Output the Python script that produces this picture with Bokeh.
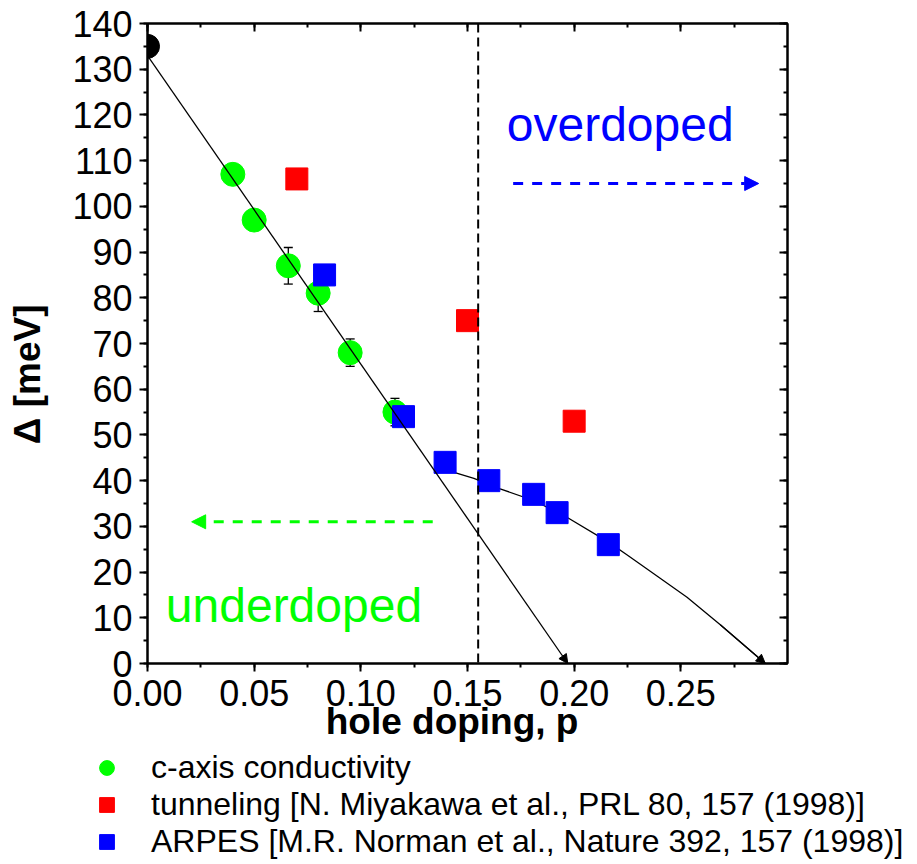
from bokeh.plotting import figure
from bokeh.models import (ColumnDataSource, Whisker, TeeHead, Arrow, NormalHead, Span,
                          Legend, LegendItem, LinearAxis, Range1d, SingleIntervalTicker,
                          NumeralTickFormatter)
from bokeh.core.properties import value
from bokeh.embed import file_html
from bokeh.resources import INLINE

FONT = "Liberation Sans"

# ---- data ----
cond_p = [0.040, 0.050, 0.066, 0.080, 0.095, 0.116]
cond_gap = [107, 97, 87, 81, 68, 55]
cond_err = [0, 0, 4, 4, 3, 3]

tun_p = [0.070, 0.150, 0.200]
tun_gap = [106, 75, 53]

arpes_p = [0.083, 0.120, 0.1395, 0.160, 0.181, 0.192, 0.216]
arpes_gap = [85, 54, 44, 40, 37, 33, 26]

origin_p = [0.0]
origin_gap = [135]

lin_p = [0.0, 0.197]
lin_gap = [133, 0]

curve_p = [0.141, 0.153, 0.1653, 0.1813, 0.1966, 0.2163, 0.2247, 0.235, 0.2529, 0.2685, 0.2896]
curve_gap = [42.2, 40.5, 38.2, 35.6, 32.0, 26.5, 23.8, 20.4, 14.5, 8.5, 0.0]

optimal_p = 0.155

over_arrow_p = [0.1714, 0.2865]
over_arrow_gap = [105, 105]
under_arrow_p = [0.1337, 0.0207]
under_arrow_gap = [31, 31]

region_labels = ["overdoped", "underdoped"]
region_p = [0.1684, 0.0086]
region_gap = [118, 12.6]
region_colors = ["#0000FF", "#00FF00"]

legend_labels = ["c-axis conductivity",
                 "tunneling [N. Miyakawa et al., PRL 80, 157 (1998)]",
                 "ARPES [M.R. Norman et al., Nature 392, 157 (1998)]"]

NBSP = "\u00a0"
x_title = "hole doping, p" + NBSP * 3
y_title = "Δ [meV]" + NBSP * 6

GREEN, RED, BLUE = "#00FF00", "#FF0000", "#0000FF"

# ---- main figure ----
p = figure(width=917, height=749, output_backend="svg", toolbar_location=None,
           x_range=Range1d(0, 0.30), y_range=Range1d(0, 140),
           min_border_left=147, min_border_right=130, min_border_top=23, min_border_bottom=86)
p.background_fill_color = "white"
p.border_fill_color = "white"
p.grid.visible = False
p.outline_line_color = "black"
p.outline_line_width = 2

xa = p.xaxis[0]
ya = p.yaxis[0]
xa.ticker = SingleIntervalTicker(interval=0.05, num_minor_ticks=2)
xa.formatter = NumeralTickFormatter(format="0.00")
ya.ticker = SingleIntervalTicker(interval=10, num_minor_ticks=2)

for ax in (xa, ya):
    ax.axis_line_width = 2
    ax.major_tick_line_width = 2
    ax.minor_tick_line_width = 2
    ax.major_label_text_font = FONT
    ax.major_label_text_font_size = "36px"
    ax.major_label_text_color = "black"
    ax.major_tick_in = 0
    ax.major_tick_out = 8
    ax.minor_tick_in = 0
    ax.minor_tick_out = 4
    ax.axis_label_text_font = FONT
    ax.axis_label_text_font_style = "bold"
    ax.axis_label_text_color = "black"
xa.major_label_standoff = 8
ya.major_label_standoff = 7
xa.axis_label = x_title
xa.axis_label_text_font_size = "37px"
xa.axis_label_standoff = -8
ya.axis_label = y_title
ya.axis_label_text_font_size = "37px"
ya.axis_label_standoff = 21

top = LinearAxis(ticker=SingleIntervalTicker(interval=0.05, num_minor_ticks=2),
                 major_label_text_font_size="0px", major_tick_in=8, major_tick_out=0,
                 minor_tick_in=4, minor_tick_out=0, axis_line_width=2,
                 major_tick_line_width=2, minor_tick_line_width=2, major_label_standoff=0)
right = LinearAxis(ticker=SingleIntervalTicker(interval=10, num_minor_ticks=2),
                   major_label_text_font_size="0px", major_tick_in=8, major_tick_out=0,
                   minor_tick_in=4, minor_tick_out=0, axis_line_width=2,
                   major_tick_line_width=2, minor_tick_line_width=2, major_label_standoff=0)
p.add_layout(top, "above")
p.add_layout(right, "right")

# vertical dashed line at optimal doping
p.add_layout(Span(location=optimal_p, dimension="height", line_color="black",
                  line_width=2, line_dash="9 5"))

# fit lines
p.add_layout(Arrow(x_start=lin_p[0], y_start=lin_gap[0], x_end=lin_p[1], y_end=lin_gap[1],
                   line_color="black", line_width=1.3,
                   end=NormalHead(size=9, fill_color="black", line_color="black", line_width=1)))
p.line(curve_p, curve_gap, line_color="black", line_width=1.3)
p.add_layout(Arrow(x_start=curve_p[-2], y_start=curve_gap[-2], x_end=curve_p[-1], y_end=curve_gap[-1],
                   line_color="black", line_width=1.3,
                   end=NormalHead(size=9, fill_color="black", line_color="black", line_width=1)))

# error bars
err_src = ColumnDataSource(data=dict(
    x=[x for x, e in zip(cond_p, cond_err) if e > 0],
    upper=[g + e for g, e in zip(cond_gap, cond_err) if e > 0],
    lower=[g - e for g, e in zip(cond_gap, cond_err) if e > 0]))
p.add_layout(Whisker(source=err_src, base="x", upper="upper", lower="lower", dimension="height",
                     line_color="black", line_width=1.3,
                     upper_head=TeeHead(size=9, line_color="black", line_width=1.3),
                     lower_head=TeeHead(size=9, line_color="black", line_width=1.3)))

# markers
p.scatter(origin_p, origin_gap, marker="circle", size=24, fill_color="black", line_color="black")
p.scatter(cond_p, cond_gap, marker="circle", size=24, fill_color=GREEN, line_color=GREEN)
p.scatter(tun_p, tun_gap, marker="square", size=22, fill_color=RED, line_color=RED)
p.scatter(arpes_p, arpes_gap, marker="square", size=22, fill_color=BLUE, line_color=BLUE)

# region arrows
p.add_layout(Arrow(x_start=over_arrow_p[0], y_start=over_arrow_gap[0],
                   x_end=over_arrow_p[1], y_end=over_arrow_gap[1],
                   line_color=BLUE, line_width=3, line_dash="10 9",
                   end=NormalHead(size=14, fill_color=BLUE, line_color=BLUE, line_width=1)))
p.add_layout(Arrow(x_start=under_arrow_p[0], y_start=under_arrow_gap[0],
                   x_end=under_arrow_p[1], y_end=under_arrow_gap[1],
                   line_color=GREEN, line_width=3, line_dash="10 9",
                   end=NormalHead(size=14, fill_color=GREEN, line_color=GREEN, line_width=1)))

# region labels
p.text(x=region_p, y=region_gap, text=region_labels, text_color=region_colors,
       text_font=value(FONT), text_font_size="48px", text_baseline="alphabetic", text_align="left")

# ---- legend strip below the plot (separate root, full-width frame) ----
p2 = figure(width=917, height=115, output_backend="svg", toolbar_location=None, title=None,
            x_range=Range1d(0, 1), y_range=Range1d(-2, -1),
            x_axis_location=None, y_axis_location=None,
            min_border=0, min_border_left=0, min_border_right=0, min_border_top=0, min_border_bottom=0)
p2.grid.visible = False
p2.outline_line_color = None
p2.background_fill_color = "white"
p2.border_fill_color = "white"
# same series (outside this strip's visible range) so the legend shows their markers
l_cond = p2.scatter(cond_p, cond_gap, marker="circle", size=24, fill_color=GREEN, line_color=GREEN)
l_tun = p2.scatter(tun_p, tun_gap, marker="square", size=22, fill_color=RED, line_color=RED)
l_arp = p2.scatter(arpes_p, arpes_gap, marker="square", size=22, fill_color=BLUE, line_color=BLUE)

legend = Legend(items=[LegendItem(label=legend_labels[0], renderers=[l_cond]),
                       LegendItem(label=legend_labels[1], renderers=[l_tun]),
                       LegendItem(label=legend_labels[2], renderers=[l_arp])],
                location=(88, 4), orientation="vertical",
                glyph_width=37, glyph_height=37, label_height=37, label_standoff=26,
                spacing=0, padding=0, margin=0,
                border_line_color=None, background_fill_alpha=0,
                label_text_font=FONT, label_text_font_size="32px", label_text_color="black")
p2.add_layout(legend)

open("out.html", "w").write(file_html([p, p2], INLINE))
